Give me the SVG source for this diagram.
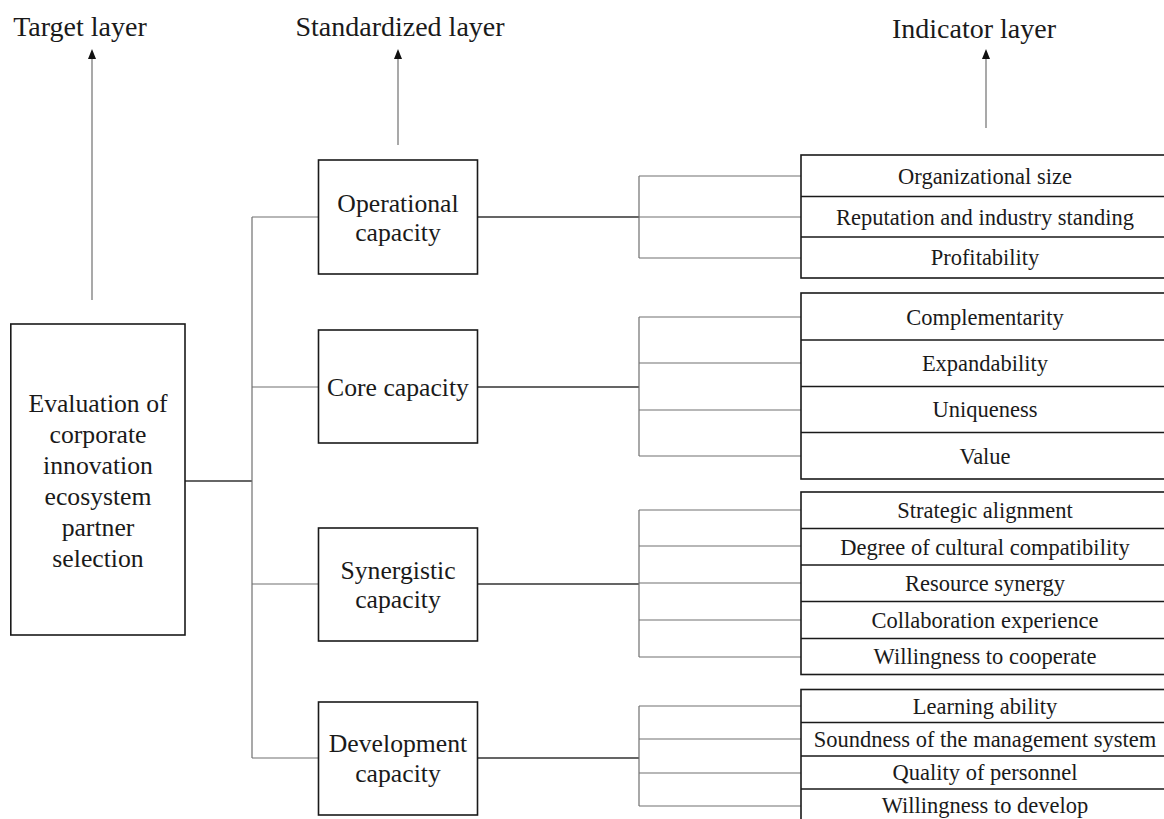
<svg xmlns="http://www.w3.org/2000/svg" width="1164" height="819" viewBox="0 0 1164 819">
  <style>
    text { font-family: "Liberation Serif", "Times New Roman", serif; fill: #1a1a1a; text-anchor: middle; }
    .layer { font-size: 28px; }
    .std { font-size: 25.7px; }
    .ind { font-size: 22.5px; }
    .box { fill: #ffffff; stroke: #1a1a1a; stroke-width: 1.6; }
    .row { fill: none; stroke: #1a1a1a; stroke-width: 1.6; }
    .thin { fill: none; stroke: #707070; stroke-width: 1.2; }
    .main { fill: none; stroke: #333333; stroke-width: 1.5; }
    .arrow { fill: none; stroke: #707070; stroke-width: 1.2; marker-end: url(#head); }
  </style>
  <defs>
    <marker id="head" viewBox="0 0 8 10" refX="4" refY="1" markerWidth="8" markerHeight="10" markerUnits="userSpaceOnUse" orient="auto-start-reverse">
      <path d="M0,10 L4,0 L8,10 Z" fill="#111111"/>
    </marker>
  </defs>
  <rect width="1164" height="819" fill="#ffffff"/>

  <!-- layer headings -->
  <g id="headings">
    <text class="layer" x="80" y="36">Target layer</text>
    <text class="layer" x="400" y="36">Standardized layer</text>
    <text class="layer" x="974" y="38">Indicator layer</text>
  </g>

  <!-- connectors -->
  <g id="connectors">
    <!-- heading arrows (drawn upward; marker sits at line start) -->
    <path class="thin" d="M92,300 V58"/>
    <path class="thin" d="M398,145 V58"/>
    <path class="thin" d="M986,128 V58"/>
    <path d="M88,59 L92,49 L96,59 Z" fill="#111111"/>
    <path d="M394,59 L398,49 L402,59 Z" fill="#111111"/>
    <path d="M982,59 L986,49 L990,59 Z" fill="#111111"/>

    <!-- goal to criteria trunk -->
    <path class="main" d="M185,481 H252"/>
    <path class="thin" d="M252,217 V758"/>
    <path class="thin" d="M252,217 H318 M252,387 H318 M252,584 H318 M252,758 H318"/>

    <!-- criteria to indicator brackets -->
    <path class="main" d="M477,217 H639 M477,387 H639 M477,584 H639 M477,758 H639"/>
    <path class="thin" d="M639,176 V258 M639,176 H801 M639,217 H801 M639,258 H801"/>
    <path class="thin" d="M639,317 V456 M639,317 H801 M639,363 H801 M639,410 H801 M639,456 H801"/>
    <path class="thin" d="M639,510 V657 M639,510 H801 M639,546 H801 M639,583 H801 M639,620 H801 M639,657 H801"/>
    <path class="thin" d="M639,706 V806 M639,706 H801 M639,739 H801 M639,773 H801 M639,806 H801"/>
  </g>

  <!-- goal node -->
  <g id="goal">
    <rect class="box" x="10.8" y="324" width="174.2" height="311"/>
    <text class="std" x="98" y="412">Evaluation of</text>
    <text class="std" x="98" y="443">corporate</text>
    <text class="std" x="98" y="474">innovation</text>
    <text class="std" x="98" y="505">ecosystem</text>
    <text class="std" x="98" y="536">partner</text>
    <text class="std" x="98" y="567">selection</text>
  </g>

  <!-- criteria nodes -->
  <g id="operational">
    <rect class="box" x="318.5" y="160" width="159" height="114"/>
    <text class="std" x="398" y="212">Operational</text>
    <text class="std" x="398" y="241">capacity</text>
  </g>
  <g id="core">
    <rect class="box" x="318.5" y="330" width="159" height="113"/>
    <text class="std" x="398" y="395.5">Core capacity</text>
  </g>
  <g id="synergistic">
    <rect class="box" x="318.5" y="528" width="159" height="113"/>
    <text class="std" x="398" y="579">Synergistic</text>
    <text class="std" x="398" y="608">capacity</text>
  </g>
  <g id="development">
    <rect class="box" x="318.5" y="702" width="159" height="113"/>
    <text class="std" x="398" y="752">Development</text>
    <text class="std" x="398" y="782">capacity</text>
  </g>

  <!-- indicator nodes -->
  <g id="indicators-operational">
    <rect class="box" x="801" y="155" width="380" height="123"/>
    <path class="row" d="M801,196.5 H1181 M801,237 H1181"/>
    <text class="ind" x="985" y="184">Organizational size</text>
    <text class="ind" x="985" y="225">Reputation and industry standing</text>
    <text class="ind" x="985" y="265">Profitability</text>
  </g>
  <g id="indicators-core">
    <rect class="box" x="801" y="293" width="380" height="186"/>
    <path class="row" d="M801,340 H1181 M801,386.5 H1181 M801,432.5 H1181"/>
    <text class="ind" x="985" y="325">Complementarity</text>
    <text class="ind" x="985" y="371">Expandability</text>
    <text class="ind" x="985" y="417">Uniqueness</text>
    <text class="ind" x="985" y="464">Value</text>
  </g>
  <g id="indicators-synergistic">
    <rect class="box" x="801" y="492" width="380" height="182.5"/>
    <path class="row" d="M801,528.5 H1181 M801,565 H1181 M801,601.5 H1181 M801,638.5 H1181"/>
    <text class="ind" x="985" y="518">Strategic alignment</text>
    <text class="ind" x="985" y="555">Degree of cultural compatibility</text>
    <text class="ind" x="985" y="591">Resource synergy</text>
    <text class="ind" x="985" y="628">Collaboration experience</text>
    <text class="ind" x="985" y="664">Willingness to cooperate</text>
  </g>
  <g id="indicators-development">
    <rect class="box" x="801" y="689.5" width="380" height="133"/>
    <path class="row" d="M801,722.5 H1181 M801,756 H1181 M801,789 H1181"/>
    <text class="ind" x="985" y="714">Learning ability</text>
    <text class="ind" x="985" y="747">Soundness of the management system</text>
    <text class="ind" x="985" y="780">Quality of personnel</text>
    <text class="ind" x="985" y="813">Willingness to develop</text>
  </g>
</svg>
